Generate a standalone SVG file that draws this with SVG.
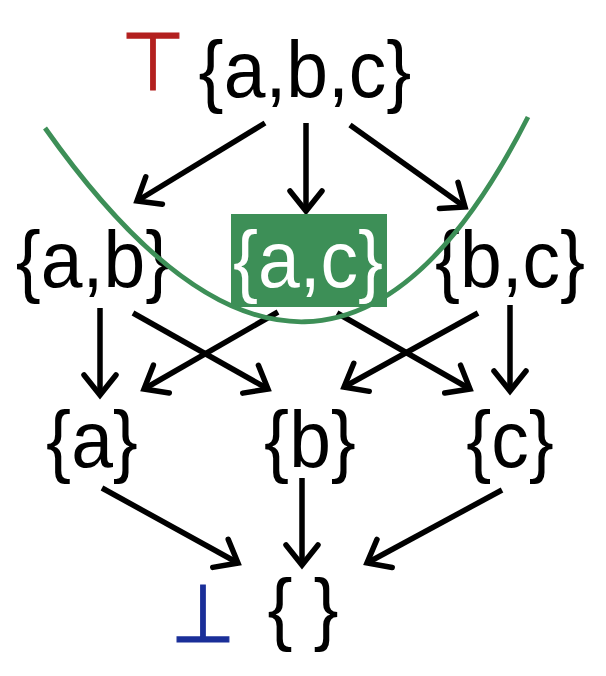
<svg xmlns="http://www.w3.org/2000/svg" width="606" height="676" viewBox="0 0 606 676">
<style>
.lbl{font-family:"Liberation Sans",Arial,sans-serif;font-size:79px;fill:#000;text-anchor:middle}
.wht{fill:#fff}
.edge{stroke:#000;stroke-width:5.5;fill:none;marker-end:url(#ah)}
.sym{font-family:"DejaVu Sans",sans-serif;font-size:74px;text-anchor:middle;stroke-width:1.1}
</style>
<defs>
<marker id="ah" markerUnits="userSpaceOnUse" markerWidth="40" markerHeight="40" refX="0" refY="0" orient="auto" overflow="visible">
<path d="M -20 -16 L 0 0 L -20 16" fill="none" stroke="#000" stroke-width="5.5" stroke-linecap="round" stroke-linejoin="miter"/>
</marker>
</defs>
<rect width="606" height="676" fill="#fff"/>
<g id="edges">
<line class="edge" x1="265" y1="123" x2="137" y2="201"/>
<line class="edge" x1="306" y1="123" x2="306" y2="211"/>
<line class="edge" x1="350" y1="125" x2="465" y2="207"/>
<line class="edge" x1="100" y1="308" x2="100" y2="395"/>
<line class="edge" x1="133" y1="313" x2="268" y2="389"/>
<line class="edge" x1="278" y1="312" x2="144" y2="389"/>
<line class="edge" x1="337" y1="313" x2="470" y2="389"/>
<line class="edge" x1="478" y1="313" x2="344" y2="387"/>
<line class="edge" x1="510" y1="305" x2="510" y2="391"/>
<line class="edge" x1="102" y1="488" x2="238" y2="563"/>
<line class="edge" x1="302" y1="478" x2="302" y2="565"/>
<line class="edge" x1="502" y1="490" x2="367" y2="563"/>
</g>
<g id="top">
<text class="sym" transform="translate(153,90) scale(1,1.1)" fill="#b3201f" stroke="#b3201f">⊤</text>
<text class="lbl" transform="translate(305,97) scale(0.95,1)">{a,b,c}</text>
</g>
<g id="ab"><text class="lbl" transform="translate(93,287) scale(0.95,1)">{a,b}</text></g>
<g id="ac">
<rect x="231" y="214" width="156" height="93" fill="#3d8f57"/>
<text class="lbl wht" transform="translate(308,287) scale(0.95,1)">{a,c}</text>
</g>
<g id="bc"><text class="lbl" transform="translate(510,287) scale(0.95,1)">{b,c}</text></g>
<g id="a"><text class="lbl" transform="translate(92,467) scale(0.95,1)">{a}</text></g>
<g id="b"><text class="lbl" transform="translate(310,467) scale(0.95,1)">{b}</text></g>
<g id="c"><text class="lbl" transform="translate(510,467) scale(0.95,1)">{c}</text></g>
<g id="bottom">
<text class="sym" transform="translate(203,642) scale(1,1.1)" fill="#1a2f99" stroke="#1a2f99">⊥</text>
<text class="lbl" transform="translate(303,635) scale(0.95,1)">{ }</text>
</g>
<g id="cut">
<path d="M 45 128 Q 323 521 528 117" fill="none" stroke="#3d8f57" stroke-width="4.8"/>
</g>
</svg>
